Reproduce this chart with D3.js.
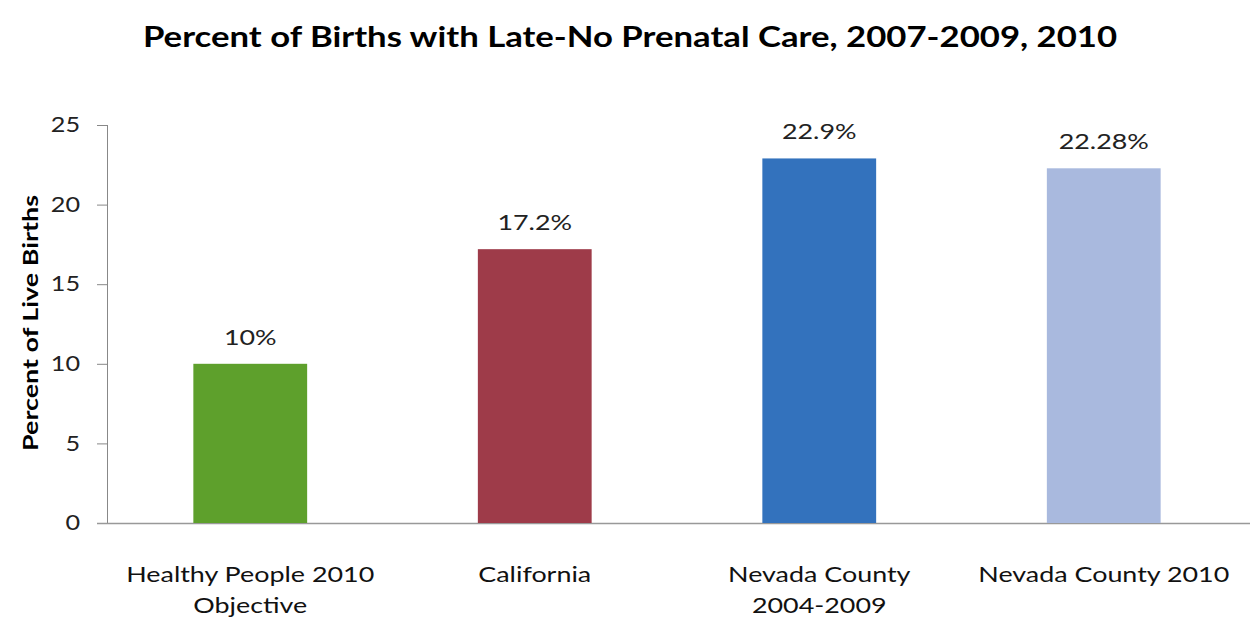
<!DOCTYPE html>
<html><head><meta charset="utf-8">
<script src="https://cdn.jsdelivr.net/npm/d3@7"></script>
<style>body{margin:0;background:#fff}svg{display:block}text{font-family:Lato,"Open Sans",sans-serif}</style>
</head><body>
<script>
const categories = [["Healthy People 2010","Objective"],["California"],["Nevada County","2004-2009"],["Nevada County 2010"]];
const values = [10, 17.2, 22.9, 22.28];
const valueLabels = ["10%","17.2%","22.9%","22.28%"];
const colors = ["#5ea02c","#9e3b49","#3372bd","#a9b9de"];
const yTicks = [0,5,10,15,20,25];

(function(){
const W=1258,H=640, mLeft=108, mRight=1250, mTop=125, mBottom=523;
const SX=1.28;
const svg=d3.select("body").append("svg").attr("width",W).attr("height",H);
const x=d3.scaleBand().domain(d3.range(values.length)).range([mLeft,1246]).paddingInner(0.6).paddingOuter(0.3);
const y=d3.scaleLinear().domain([0,25]).range([mBottom,mTop]);

function label(px,py,txt,size,weight,sx,fill){
  return svg.append("text").attr("transform",`translate(${px},${py}) scale(${sx},1)`)
    .attr("text-anchor","middle").attr("font-size",size).attr("font-weight",weight).attr("fill",fill).text(txt);
}

label(630,47,"Percent of Births with Late-No Prenatal Care, 2007-2009, 2010",28,"bold",1.24,"#000");

const ya=svg.append("g").attr("transform",`translate(${mLeft},0)`)
  .call(d3.axisLeft(y).tickValues(yTicks).tickSize(11).tickPadding(14));
ya.select(".domain").attr("stroke","#888").attr("d",`M-0.5,${mTop}V${mBottom}`);
ya.selectAll(".tick line").attr("stroke","#888");
ya.selectAll(".tick text").attr("font-size",21).attr("fill","#222").attr("font-family","Lato,sans-serif")
  .attr("x",null).attr("transform",`translate(-28,0) scale(1.2,1)`).attr("text-anchor","end");

svg.append("line").attr("x1",mLeft-11).attr("x2",mRight).attr("y1",mBottom+0.5).attr("y2",mBottom+0.5).attr("stroke","#999").attr("stroke-width",1.5);

svg.selectAll("rect.bar").data(values).enter().append("rect").attr("class","bar")
  .attr("x",(d,i)=>x(i)).attr("width",x.bandwidth())
  .attr("y",d=>y(d)).attr("height",d=>mBottom-y(d)).attr("fill",(d,i)=>colors[i]);

values.forEach((d,i)=>label(x(i)+x.bandwidth()/2, y(d)-19, valueLabels[i], 21, "normal", SX, "#222"));

categories.forEach((lines,i)=>{
  lines.forEach((t,j)=>label(x(i)+x.bandwidth()/2, 582+j*31, t, 21, "normal", SX, "#111"));
});

svg.append("text").attr("transform","translate(38,323) rotate(-90) scale(1.28,1)").attr("text-anchor","middle")
  .attr("font-size",21).attr("font-weight","bold").attr("fill","#000").text("Percent of Live Births");
})();
</script>
</body></html>
